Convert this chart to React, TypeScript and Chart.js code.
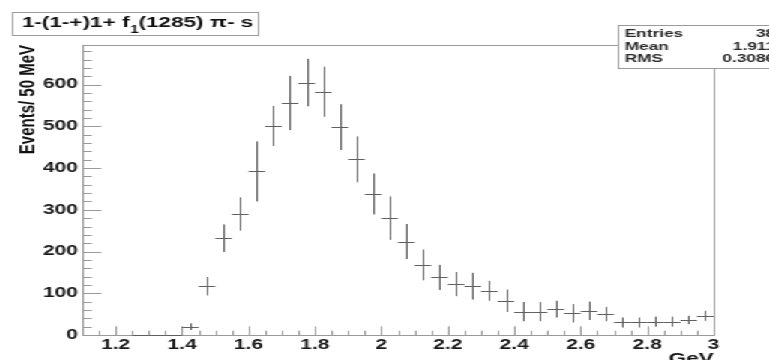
import { useEffect, useRef } from "react";
import { Chart, registerables } from "chart.js";

Chart.register(...registerables);

// ---- data (50 MeV bins) ----
const binCenters = [
  1.125, 1.175, 1.225, 1.275, 1.325, 1.375, 1.425, 1.475, 1.525, 1.575,
  1.625, 1.675, 1.725, 1.775, 1.825, 1.875, 1.925, 1.975, 2.025, 2.075,
  2.125, 2.175, 2.225, 2.275, 2.325, 2.375, 2.425, 2.475, 2.525, 2.575,
  2.625, 2.675, 2.725, 2.775, 2.825, 2.875, 2.925, 2.975,
];
const counts: (number | null)[] = [
  null, null, null, 0, 0, 0, 20, 117, 232, 290,
  392, 501, 556, 605, 583, 498, 421, 338, 280, 224,
  168, 138, 122, 117, 106, 82, 56, 56, 62, 52,
  58, 50, 30, 30, 32, 32, 36, 46,
];
const errors = [
  0, 0, 0, 0, 0, 0, 8, 22, 33, 40,
  72, 48, 65, 57, 60, 55, 55, 49, 52, 42,
  37, 30, 29, 32, 24, 27, 23, 23, 20, 22,
  22, 17, 12, 12, 12, 12, 10, 12,
];
const binHalfWidth = 0.025;

const xTickValues = [1.2, 1.4, 1.6, 1.8, 2, 2.2, 2.4, 2.6, 2.8, 3];
const yTickValues = [0, 100, 200, 300, 400, 500, 600];
const xMin = 1.1;
const xMax = 3.0;
const yMin = 0;
const yMax = 695;
const xMinorStep = 0.05;
const yMinorStep = 20;

const titleMain = "1-(1-+)1+ f";
const titleSub = "1";
const titleRest = "(1285) \u03c0- s";
const xTitle = "GeV";
const yTitle = "Events/ 50 MeV";
const statsLabels = ["Entries", "Mean", "RMS"];
const statsValues = ["38", "1.911", "0.3086"];

// ---- layout (canvas drawn narrow, then stretched horizontally) ----
const CANVAS_W = 513;
const CANVAS_H = 360;
const STRETCH = 769 / CANVAS_W;
const FONT = '"Liberation Sans", Arial, sans-serif';

const rootPlugin = {
  id: "rootStyle",
  afterDatasetsDraw(chart: any) {
    const { ctx, chartArea: a, scales } = chart;
    const x = scales.x;
    const y = scales.y;
    ctx.save();

    // frame
    ctx.strokeStyle = "#9a9a9a";
    ctx.lineWidth = 1;
    ctx.strokeRect(Math.round(a.left) + 0.5, Math.round(a.top) + 0.5, Math.round(a.right - a.left), Math.round(a.bottom - a.top));

    // y ticks (inside)
    ctx.beginPath();
    const nY = Math.floor((yMax - yMin) / yMinorStep + 1e-9);
    for (let i = 0; i <= nY; i++) {
      const v = yMin + i * yMinorStep;
      const major = v % 100 === 0;
      const len = major ? 12.6 : 6.3;
      const py = Math.round(y.getPixelForValue(v)) + 0.5;
      ctx.moveTo(a.left, py);
      ctx.lineTo(a.left + len, py);
    }
    // x ticks (inside)
    const nX = Math.round((xMax - xMin) / xMinorStep);
    for (let i = 0; i <= nX; i++) {
      const v = xMin + i * xMinorStep;
      const major = Math.abs(v * 5 - Math.round(v * 5)) < 1e-6;
      const len = major ? 8.7 : 4.3;
      const px = Math.round(x.getPixelForValue(v)) + 0.5;
      ctx.moveTo(px, a.bottom);
      ctx.lineTo(px, a.bottom - len);
    }
    ctx.stroke();

    // error crosses
    ctx.strokeStyle = "#606060";
    ctx.beginPath();
    binCenters.forEach((c, i) => {
      const v = counts[i];
      if (v == null) return;
      const e = errors[i];
      const x0 = x.getPixelForValue(c - binHalfWidth);
      const x1 = x.getPixelForValue(c + binHalfWidth);
      const py = Math.round(y.getPixelForValue(v)) + 0.5;
      ctx.moveTo(x0, py);
      ctx.lineTo(x1, py);
      if (e > 0) {
        const px = Math.round(x.getPixelForValue(c)) + 0.5;
        ctx.moveTo(px, y.getPixelForValue(v + e));
        ctx.lineTo(px, y.getPixelForValue(Math.max(0, v - e)));
      }
    });
    ctx.stroke();
    ctx.restore();
  },
  afterDraw(chart: any) {
    const { ctx } = chart;
    ctx.save();
    // title box
    ctx.fillStyle = "#ffffff";
    ctx.fillRect(8, 12, 164, 23);
    ctx.strokeStyle = "#9a9a9a";
    ctx.lineWidth = 1;
    ctx.strokeRect(8.5, 12.5, 164, 23);
    ctx.fillStyle = "#111111";
    ctx.textBaseline = "alphabetic";
    ctx.textAlign = "left";
    let tx = 14.7;
    ctx.font = `bold 15px ${FONT}`;
    ctx.fillText(titleMain, tx, 26.5);
    tx += ctx.measureText(titleMain).width + 0.5;
    ctx.font = `bold 10px ${FONT}`;
    ctx.fillText(titleSub, tx, 32.5);
    tx += ctx.measureText(titleSub).width;
    ctx.font = `bold 15px ${FONT}`;
    ctx.fillText(titleRest, tx, 26.5);

    // stats box
    ctx.fillStyle = "#ffffff";
    ctx.fillRect(412, 25, 120, 43);
    ctx.strokeStyle = "#9a9a9a";
    ctx.strokeRect(412.5, 25.5, 120, 43);
    ctx.fillStyle = "#2a2a2a";
    ctx.font = `bold 11.5px ${FONT}`;
    const rows = [37, 50, 62];
    statsLabels.forEach((lab, i) => {
      ctx.textAlign = "left";
      ctx.fillText(lab, 416.7, rows[i]);
      ctx.textAlign = "right";
      ctx.fillText(statsValues[i], 517, rows[i]);
    });
    ctx.restore();
  },
};

export default function App() {
  const canvasRef = useRef<HTMLCanvasElement | null>(null);

  useEffect(() => {
    const canvas = canvasRef.current;
    if (!canvas) return;
    const points = binCenters
      .map((c, i) => (counts[i] == null ? null : { x: c, y: counts[i] as number }))
      .filter((p) => p !== null) as { x: number; y: number }[];

    const chart = new Chart(canvas, {
      type: "scatter",
      data: {
        datasets: [
          {
            data: points,
            pointRadius: 0,
            pointHoverRadius: 0,
            showLine: false,
          },
        ],
      },
      options: {
        animation: false,
        responsive: false,
        events: [],
        layout: { padding: { left: 0, right: 37, top: 45, bottom: 0 } },
        plugins: {
          legend: { display: false },
          tooltip: { enabled: false },
        },
        scales: {
          x: {
            type: "linear",
            min: xMin,
            max: xMax,
            afterBuildTicks: (scale: any) => {
              scale.ticks = xTickValues.map((v) => ({ value: v }));
            },
            afterFit: (scale: any) => {
              scale.height = 25;
            },
            grid: { display: false, drawTicks: false },
            border: { display: false },
            ticks: {
              autoSkip: false,
              maxRotation: 0,
              padding: 2,
              color: "#1a1a1a",
              font: { family: FONT, size: 14, weight: "bold" },
              callback: (v: any) => String(v),
            },
            title: {
              display: true,
              text: xTitle,
              align: "end",
              color: "#111111",
              font: { family: FONT, size: 15, weight: "bold" },
              padding: { top: 0, bottom: -8 },
            },
          },
          y: {
            type: "linear",
            min: yMin,
            max: yMax,
            afterBuildTicks: (scale: any) => {
              scale.ticks = yTickValues.map((v) => ({ value: v }));
            },
            afterFit: (scale: any) => {
              scale.width = 55;
            },
            grid: { display: false, drawTicks: false },
            border: { display: false },
            ticks: {
              autoSkip: false,
              padding: 3,
              color: "#1a1a1a",
              font: { family: FONT, size: 14, weight: "bold" },
              callback: (v: any) => String(v),
            },
            title: {
              display: true,
              text: yTitle,
              align: "end",
              color: "#111111",
              font: { family: FONT, size: 15, weight: "bold" },
              padding: { top: 10, bottom: 0 },
            },
          },
        },
      } as any,
      plugins: [rootPlugin as any],
    });
    return () => chart.destroy();
  }, []);

  return (
    <div
      style={{
        position: "absolute",
        left: 0,
        top: 0,
        width: CANVAS_W,
        height: CANVAS_H,
        transform: `scaleX(${STRETCH})`,
        transformOrigin: "0 0",
        background: "#ffffff",
      }}
    >
      <canvas ref={canvasRef} width={CANVAS_W} height={CANVAS_H} />
    </div>
  );
}
